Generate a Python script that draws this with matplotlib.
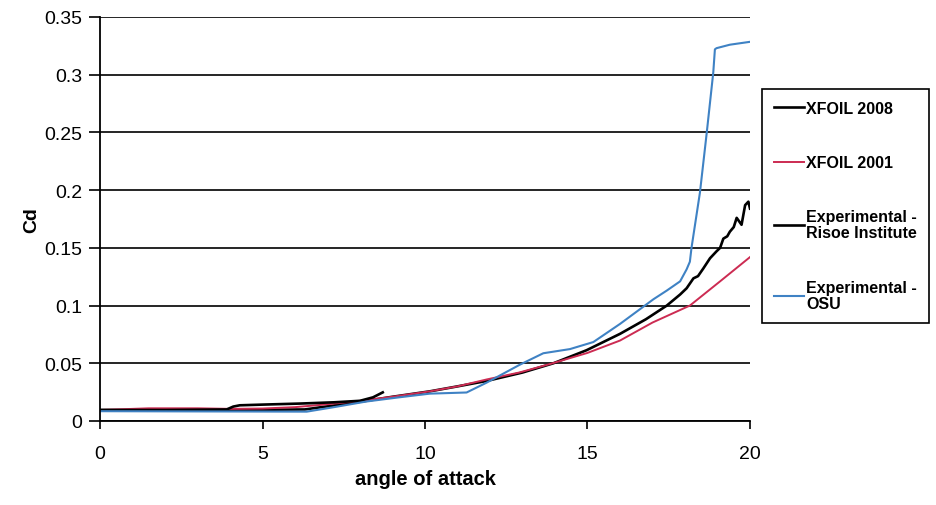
import matplotlib
matplotlib.use('Agg')
import matplotlib.pyplot as plt

plt.rcParams['font.family'] = ['Liberation Sans', 'DejaVu Sans']

# drag coefficient vs angle of attack
xfoil08_aoa = [0, 2, 4, 5.3, 6.3, 7.2, 8.2, 9.0, 10.15, 11.0, 11.9, 13.0, 13.95,
               14.97, 16.0, 16.8, 17.44, 17.85, 18.05, 18.26, 18.4, 18.56, 18.77,
               18.97, 19.08, 19.18, 19.3, 19.38, 19.5, 19.59, 19.74, 19.85, 19.95, 20.0]
xfoil08_cd = [0.0095, 0.0095, 0.0097, 0.0098, 0.0100, 0.0135, 0.0175, 0.021, 0.0257,
              0.030, 0.0347, 0.042, 0.050, 0.0613, 0.0755, 0.0882, 0.100, 0.1096,
              0.1150, 0.1236, 0.1255, 0.132, 0.141, 0.147, 0.150, 0.158, 0.160,
              0.164, 0.168, 0.176, 0.170, 0.187, 0.190, 0.184]

xfoil01_aoa = [0, 1.5, 3, 4, 5, 6, 7, 8, 9, 10.15, 11.0, 11.9, 12.9, 13.85, 15.0,
               16.0, 17.0, 18.15, 19.08, 20.0]
xfoil01_cd = [0.0095, 0.0110, 0.0110, 0.0105, 0.0108, 0.0120, 0.0145, 0.0175, 0.021,
              0.0257, 0.030, 0.036, 0.042, 0.0494, 0.059, 0.0697, 0.0853, 0.100,
              0.121, 0.142]

risoe_aoa = [0, 2, 3.9, 4.1, 4.3, 5.0, 6.15, 7.2, 8.0, 8.4, 8.7]
risoe_cd = [0.0095, 0.0095, 0.0100, 0.0125, 0.0136, 0.0142, 0.0151, 0.0162, 0.0175,
            0.0205, 0.0248]

osu_aoa = [0, 3, 6.36, 7.2, 8.2, 9.2, 10.15, 11.28, 11.9, 12.92, 13.64, 14.46,
           15.18, 16.0, 17.03, 17.44, 17.85, 18.05, 18.15, 18.2, 18.46, 18.67,
           18.87, 18.92, 18.97, 19.38, 20.0]
osu_cd = [0.0085, 0.0083, 0.0081, 0.0120, 0.0169, 0.0205, 0.0237, 0.0247, 0.0333,
          0.0488, 0.0587, 0.0623, 0.0684, 0.0841, 0.1055, 0.113, 0.121, 0.1314,
          0.138, 0.150, 0.198, 0.250, 0.302, 0.322, 0.323, 0.326, 0.3285]

x_ticks = [0, 5, 10, 15, 20]
y_ticks = [0, 0.05, 0.1, 0.15, 0.2, 0.25, 0.3, 0.35]
y_tick_labels = ['0', '0.05', '0.1', '0.15', '0.2', '0.25', '0.3', '0.35']

RED = '#cc2b52'
BLUE = '#3f82c4'

fig = plt.figure(figsize=(9.37, 5.06), dpi=100)
ax = fig.add_axes([100 / 937, 1 - 422 / 506, 650 / 937, 404 / 506])

ax.plot(xfoil08_aoa, xfoil08_cd, color='black', lw=1.9, label='XFOIL 2008')
ax.plot(xfoil01_aoa, xfoil01_cd, color=RED, lw=1.4, label='XFOIL 2001')
ax.plot(risoe_aoa, risoe_cd, color='black', lw=1.9,
        label='Experimental -\nRisoe Institute')
ax.plot(osu_aoa, osu_cd, color=BLUE, lw=1.5, label='Experimental -\nOSU')

ax.set_xlim(0, 20)
ax.set_ylim(0, 0.35)
ax.set_xticks(x_ticks)
ax.set_xticklabels([str(t) for t in x_ticks])
ax.set_yticks(y_ticks)
ax.set_yticklabels(y_tick_labels)

ax.yaxis.grid(True, color='black', lw=1.2)
ax.set_axisbelow(True)
for side in ['top', 'right']:
    ax.spines[side].set_visible(False)
for side in ['left', 'bottom']:
    ax.spines[side].set_linewidth(1.3)

ax.tick_params(axis='y', direction='out', length=8, width=1.2, pad=5, labelsize=14)
ax.tick_params(axis='x', direction='out', length=6, width=1.2, pad=11, labelsize=14)

ax.set_xlabel('angle of attack', fontsize=14.5, fontweight='bold', labelpad=5)
ax.set_ylabel('Cd', fontsize=14, fontweight='bold', labelpad=3)

leg = ax.legend(loc='upper left', bbox_to_anchor=(762 / 937, 1 - 90 / 506),
                bbox_transform=fig.transFigure, borderaxespad=0,
                prop={'weight': 'bold', 'size': 11.5}, handlelength=1.9,
                handletextpad=0.1, labelspacing=2.45, borderpad=0.75,
                fancybox=False, framealpha=1, edgecolor='black')
leg.get_frame().set_linewidth(1.2)
for t in leg.get_texts():
    t.set_linespacing(1.1)

fig.savefig('out.png', dpi=100)
